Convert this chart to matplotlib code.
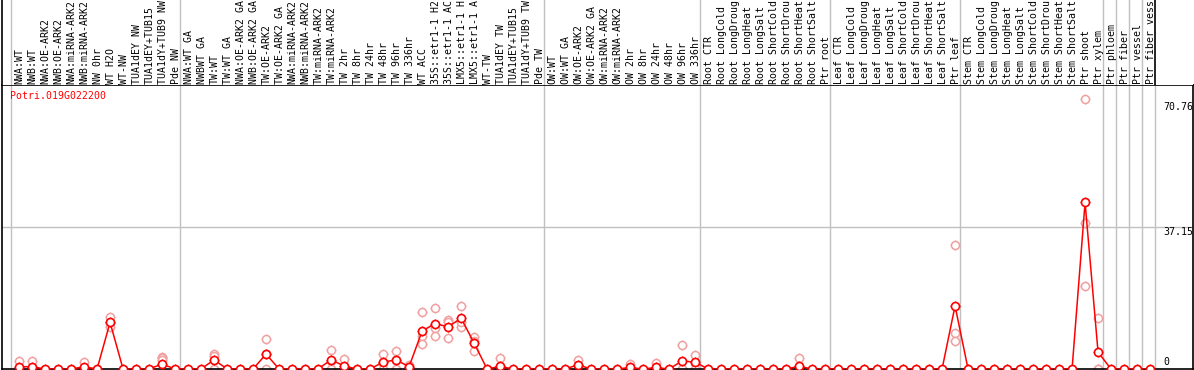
import numpy as np
import matplotlib
matplotlib.use("Agg")
import matplotlib.pyplot as plt

gene = "Potri.019G022200"

labels = [
    "NWA:WT", "NWB:WT", "NWA:OE-ARK2", "NWB:OE-ARK2", "NWA:miRNA-ARK2", "NWB:miRNA-ARK2",
    "NW 0hr", "WT H2O", "WT-NW", "TUA1dEY NW", "TUA1dEY+TUB15 NW", "TUA1dY+TUB9 NW", "Pde NW",
    "NWA:WT GA", "NWBWT GA", "TW:WT", "TW:WT GA", "NWA:OE-ARK2 GA", "NWB:OE-ARK2 GA",
    "TW:OE-ARK2", "TW:OE-ARK2 GA", "NWA:miRNA-ARK2", "NWB:miRNA-ARK2", "TW:miRNA-ARK2",
    "TW:miRNA-ARK2", "TW 2hr", "TW 8hr", "TW 24hr", "TW 48hr", "TW 96hr", "TW 336hr", "WT ACC",
    "35S::etr1-1 H2O", "35S::etr1-1 ACC", "LMX5::etr1-1 H2O", "LMX5::etr1-1 ACC", "WT-TW",
    "TUA1dEY TW", "TUA1dEY+TUB15 TW", "TUA1dY+TUB9 TW", "Pde TW",
    "OW:WT", "OW:WT GA", "OW:OE-ARK2", "OW:OE-ARK2 GA", "OW:miRNA-ARK2", "OW:miRNA-ARK2",
    "OW 2hr", "OW 8hr", "OW 24hr", "OW 48hr", "OW 96hr", "OW 336hr",
    "Root CTR", "Root LongCold", "Root LongDrought", "Root LongHeat", "Root LongSalt",
    "Root ShortCold", "Root ShortDrought", "Root ShortHeat", "Root ShortSalt", "Ptr root",
    "Leaf CTR", "Leaf LongCold", "Leaf LongDrought", "Leaf LongHeat", "Leaf LongSalt",
    "Leaf ShortCold", "Leaf ShortDrought", "Leaf ShortHeat", "Leaf ShortSalt", "Ptr leaf",
    "Stem CTR", "Stem LongCold", "Stem LongDrought", "Stem LongHeat", "Stem LongSalt",
    "Stem ShortCold", "Stem ShortDrought", "Stem ShortHeat", "Stem ShortSalt", "Ptr shoot",
    "Ptr xylem", "Ptr phloem", "Ptr fiber", "Ptr vessel", "Ptr fiber vessel",
]
max_chars = 14  # label strip only shows this many characters

# mean expression per sample
means = [
    0.6, 0.6, 0, 0, 0, 0.6, 0, 12.2, 0, 0, 0, 1.3, 0,
    0, 0, 2.4, 0, 0, 0, 3.9, 0, 0, 0, 0, 2.4, 0.8, 0, 0, 1.8, 2.4, 0.6,
    9.9, 11.9, 11.0, 13.3, 6.8, 0, 0.7, 0, 0, 0,
    0, 0, 1.1, 0, 0, 0, 0.4, 0, 0.4, 0, 2.1, 1.8,
    0, 0, 0, 0, 0, 0, 0, 0.7, 0, 0,
    0, 0, 0, 0, 0, 0, 0, 0, 0, 16.5,
    0, 0, 0, 0, 0, 0, 0, 0, 0, 43.6,
    4.4, 0, 0, 0, 0,
]

# replicates for samples that have visible spread (index -> values)
rep_idx = [0, 1, 5, 7, 11, 15, 19, 24, 25, 28, 29, 30, 31, 32, 33, 34, 35, 37,
           43, 47, 49, 51, 52, 60, 72, 82, 83]
rep_vals = [
    [2.1, 0, 0], [2.1, 0, 0], [1.9, 0, 0], [13.7, 12.0, 10.9], [3.2, 2.8, 2.4],
    [3.8, 3.4, 0], [7.8, 3.9, 0], [5.0, 2.2, 0], [2.6, 0, 0], [3.9, 1.5, 0],
    [4.8, 2.4, 0], [1.0, 0.5, 0], [14.8, 8.7, 6.5], [15.9, 10.6, 8.7],
    [12.8, 12.4, 8.0], [16.5, 11.1, 12.3], [8.5, 4.7, 7.2], [2.9, 0, 0],
    [2.3, 1.0, 0], [1.3, 0, 0], [1.5, 0, 0], [6.3, 0, 0], [3.7, 1.7, 0],
    [2.8, 0, 0], [32.4, 9.3, 7.4], [70.76, 38.3, 21.7], [13.3, 0, 0],
]

separators = [0, 13, 41, 53, 63, 73, 84, 85, 86, 87]
ymax = 70.76

W, H = 1194, 370
fig = plt.figure(figsize=(W / 100, H / 100), dpi=100)
font = dict(family="DejaVu Sans Mono", fontsize=7.1)

x0 = (2 - 11) / 13
x1 = (1193 - 11) / 13
x = np.arange(len(means)) + 0.62

# plot area
ax = fig.add_axes([2 / W, 1 / H, 1191 / W, 284 / H])
ax.set_xlim(x0, x1)
ax.set_ylim(0, ymax * 1.05)
ax.set_xticks([])
ax.set_yticks([])
for s in ax.spines.values():
    s.set_color("black")
    s.set_linewidth(1.2)

for sx in separators + [88]:
    ax.axvline(sx, color="#c0c0c0", lw=1, zorder=0)
ax.axhline(ymax * 1.05 / 2, color="#c0c0c0", lw=1, zorder=0)

rx = []
ry = []
for i, vals in zip(rep_idx, rep_vals):
    for v in vals:
        rx.append(x[i])
        ry.append(v)
pink = "#f0a0a0"
ax.plot(rx, ry, ls="none", marker="+", ms=7.5, mew=0.9, color=pink, zorder=2)
ax.plot(rx, ry, ls="none", marker="o", ms=5.8, mfc="white", mec=pink, mew=1.1, zorder=2.5)

ax.plot(x, means, color="red", lw=1.1, zorder=3)
ax.plot(x, means, ls="none", marker="+", ms=7.5, mew=0.9, color="red", zorder=4)
ax.plot(x, means, ls="none", marker="o", ms=5.8, mfc="white", mec="red", mew=1.2, zorder=5)

ax.text(x0 + 0.6, 71.5, gene, color="red", ha="left", va="center", **font)
xl = (1163 - 11) / 13
yl = dict(ha="left", va="center", color="black", zorder=6, **font)
ax.text(xl, ymax - 2.2, "%.2f" % ymax, **yl)
ax.text(xl, ymax * 1.05 / 2 - 1.3, "%.2f" % (ymax * 1.05 / 2), **yl)
ax.text(xl, 1.8, "0", **yl)

# label area
lab = fig.add_axes([2 / W, 285 / H, 1191 / W, 85 / H])
lab.set_xlim(x0, x1)
lab.set_ylim(0, 1)
lab.set_xticks([])
lab.set_yticks([])
for k, s in lab.spines.items():
    s.set_visible(k == "left")
lab.spines["left"].set_linewidth(1.2)
for sx in separators:
    lab.axvline(sx, color="#c0c0c0", lw=1, zorder=0)
lab.axvline(88, color="black", lw=1.2, zorder=0)

for i, name in enumerate(labels):
    lab.text(x[i] + 0.05, 0.015, name[:max_chars].rstrip(), rotation=90,
             ha="center", va="bottom", color="black", **font)

fig.savefig("out.png", dpi=100)
